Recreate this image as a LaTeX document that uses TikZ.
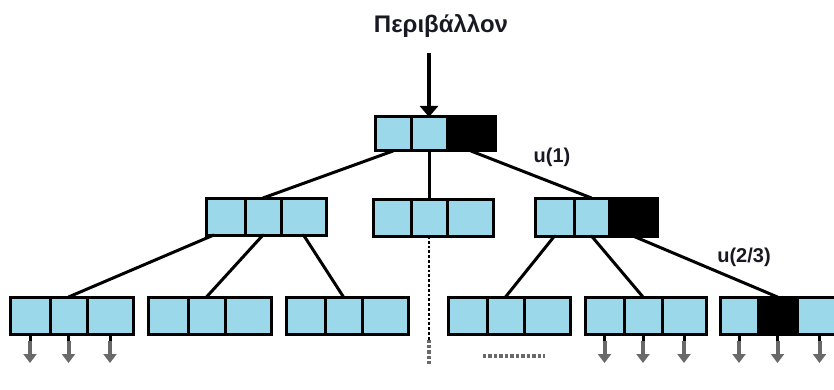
\documentclass[tikz,border=0pt]{standalone}
\usepackage{fontspec}
\setmainfont{Liberation Sans}
\usetikzlibrary{arrows.meta,calc}
\definecolor{cellblue}{RGB}{155,216,233}
\definecolor{inkdark}{RGB}{25,25,35}
\definecolor{leafgrey}{RGB}{105,105,105}

% one cell of a record: name, left, right, top, bottom, fill
\newcommand\cellbox[6]{%
  \node[cell, fill=#6, minimum width={(#3-#2)*1pt}, minimum height={(#5-#4)*1pt}]
    (#1) at ({(#2+#3)/2},{(#4+#5)/2}) {};}
% three cells in a row: prefix, x0, x1, x2, x3, top, bottom, fills as f1/f2/f3
\newcommand\record[8]{%
  \foreach \fa/\fb/\fc in {#8}{%
    \cellbox{#1-1}{#2}{#3}{#6}{#7}{\fa}
    \cellbox{#1-2}{#3}{#4}{#6}{#7}{\fb}
    \cellbox{#1-3}{#4}{#5}{#6}{#7}{\fc}}}

\begin{document}
\begin{tikzpicture}[x=1pt,y=-1pt,
  cell/.style={draw=black, line width=3pt, inner sep=0pt, outer sep=0pt},
  link/.style={line width=3pt, line cap=round},
  label/.style={font=\bfseries\fontsize{20}{22}\selectfont, text=inkdark, inner sep=0pt},
  leafarrow/.style={draw=leafgrey, line width=4pt, -{Triangle[width=13pt,length=9pt]}},
  stem/.style={line width=3pt}]
\useasboundingbox (0,0) rectangle (834,390);
\clip (0,0) rectangle (834,390);

% title and input arrow
\node[label, font=\bfseries\fontsize{24}{26}\selectfont] (title) at (441,26) {Περιβάλλον};
\coordinate (src) at (429,53);

% root
\record{r}{375}{411}{447}{495}{117}{151}{cellblue/cellblue/black}
\draw[line width=3.2pt, -{Triangle[width=18pt,length=11pt]}] (src) -- (r-2.north);

% second level
\record{a}{206}{245}{281}{326}{198}{235}{cellblue/cellblue/cellblue}
\record{b}{373}{411}{447}{493}{199}{236}{cellblue/cellblue/cellblue}
\record{c}{535}{574}{609}{657}{198}{236}{cellblue/cellblue/black}

% leaves
\record{la}{10}{50}{87}{133}{297}{334}{cellblue/cellblue/cellblue}
\record{lb}{148}{188}{225}{271}{297}{334}{cellblue/cellblue/cellblue}
\record{lc}{286}{325}{362}{408}{297}{334}{cellblue/cellblue/cellblue}
\record{ld}{448}{487}{524}{570}{297}{334}{cellblue/cellblue/cellblue}
\record{le}{585}{624}{662}{706}{297}{334}{cellblue/cellblue/cellblue}
\record{lf}{720}{758}{797}{842}{297}{334}{cellblue/black/cellblue}

% tree edges
\draw[link] (r-1.south) -- (a-2.north);
\draw[link] (r-2.south) -- (b-2.north);
\draw[link] (r-3.south) -- (c-2.north);
\draw[link] ($(a-1.south west)!0.2!(a-1.south east)$) -- (la-2.north);
\draw[link] (a-2.south) -- (lb-2.north);
\draw[link] (a-3.south) -- (lc-2.north);
\draw[link] (c-1.south) -- (ld-2.north);
\draw[link] (c-2.south) -- (le-2.north);
\draw[link] (c-3.south) -- (lf-2.north);

% edge labels
\node[label] (u1) at (552,157) {u(1)};
\node[label] (u23) at (744,257) {u(2/3)};

% elided subtree below the middle record
\coordinate (dotend) at ($(b-2.south)+(0,104)$);
\coordinate (dotfade) at ($(b-2.south)+(0,128)$);
\draw[line width=2.8pt, dotted] (b-2.south) -- (dotend);
\draw[line width=3.2pt, dotted, draw=leafgrey] (dotend) -- (dotfade);

% elided outputs below the fourth leaf
\coordinate (gapl) at ($(ld-1.south)+(15,22)$);
\coordinate (gapr) at ($(ld-3.south)+(-2,22)$);
\draw[line width=3.5pt, dotted, draw=leafgrey] (gapl) -- (gapr);

% outputs of the leaf cells
\foreach \g in {la,le,lf}{
  \foreach \i in {1,2,3}{
    \draw[stem] (\g-\i.south) -- ++(0,7) coordinate (\g-\i-s);
    \draw[leafarrow] (\g-\i-s) -- ++(0,22);
  }}
\end{tikzpicture}
\end{document}
